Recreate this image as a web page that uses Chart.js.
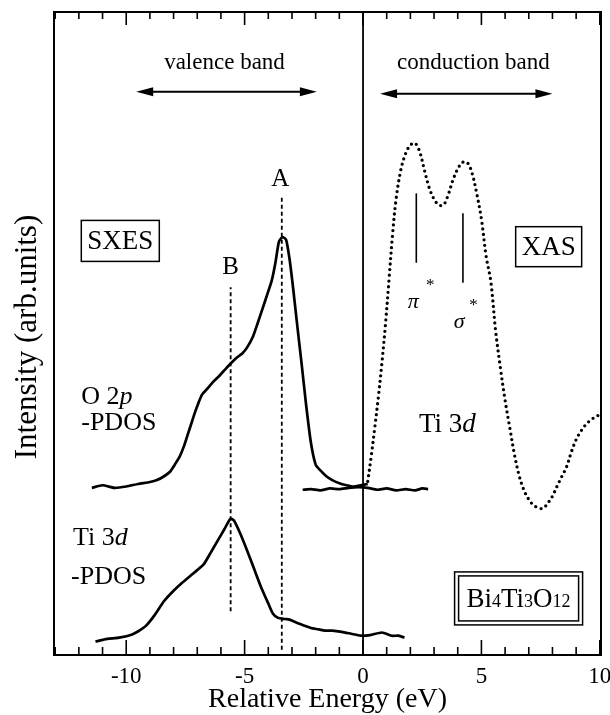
<!DOCTYPE html>
<html>
<head>
<meta charset="utf-8">
<title>Bi4Ti3O12 SXES / XAS</title>
<script src="https://cdn.jsdelivr.net/npm/chart.js"></script>
<style>
  body { margin: 0; background: #fff; }
  #wrap { width: 610px; height: 715px; }
</style>
</head>
<body>
<div id="wrap"><canvas id="chart"></canvas></div>
<script>
// Energy axis
const xMin = -13.05, xMax = 10.05;
const xTickValues = [-10, -5, 0, 5, 10];

// O 2p PDOS (SXES), [energy, intensity]
const o2pE = [-11.45, -11.0, -10.5, -10.0, -9.5, -9.0, -8.7, -8.4, -8.15, -7.95, -7.75, -7.55, -7.4, -7.25, -7.1, -6.95, -6.8, -6.6, -6.35, -6.1, -5.85, -5.6, -5.35, -5.1, -4.9, -4.65, -4.45, -4.25, -4.05, -3.85, -3.7, -3.55, -3.4, -3.25, -3.1, -2.95, -2.8, -2.6, -2.4, -2.2, -2.0, -1.8, -1.55, -1.3, -1.0, -0.7, -0.4, -0.1, 0.2];
const o2pI = [26.0, 26.4, 26.0, 26.2, 26.6, 26.9, 27.2, 27.8, 28.5, 29.6, 30.8, 32.6, 34.3, 36.0, 37.7, 39.2, 40.5, 41.3, 42.4, 43.3, 44.3, 45.3, 46.2, 46.9, 47.8, 49.5, 51.6, 53.8, 56.0, 58.3, 61.0, 64.3, 65.0, 64.6, 61.5, 57.0, 52.0, 45.5, 38.8, 33.0, 29.6, 28.7, 27.8, 27.2, 26.7, 26.4, 26.2, 26.4, 26.6];

// flat trace around the Fermi level
const flatE = [-2.55, -2.2, -1.8, -1.4, -1.0, -0.6, -0.2, 0.2, 0.6, 1.0, 1.4, 1.8, 2.2, 2.5, 2.75];
const flatI = [25.7, 25.8, 25.6, 25.9, 25.8, 26.0, 26.1, 26.0, 25.7, 25.9, 25.6, 25.8, 25.6, 25.9, 25.8];

// Ti 3d PDOS (SXES)
const ti3dE = [-11.3, -10.8, -10.3, -9.75, -9.4, -9.15, -8.8, -8.4, -8.0, -7.65, -7.2, -6.75, -6.45, -6.15, -5.85, -5.6, -5.45, -5.2, -4.9, -4.6, -4.3, -4.0, -3.8, -3.6, -3.3, -3.1, -2.8, -2.5, -2.2, -1.9, -1.6, -1.3, -0.9, -0.5, -0.1, 0.3, 0.8, 1.2, 1.5, 1.75];
const ti3dI = [2.1, 2.5, 2.7, 3.2, 3.9, 4.6, 6.2, 8.4, 10.0, 11.2, 12.6, 14.0, 15.8, 17.7, 19.6, 21.2, 20.9, 19.0, 16.3, 13.4, 10.5, 8.0, 6.4, 5.8, 5.6, 5.5, 5.0, 4.6, 4.2, 4.0, 3.8, 3.8, 3.6, 3.3, 3.0, 3.1, 3.5, 3.0, 3.0, 2.7];

// Ti 3d XAS
const xasE = [0.2, 0.35, 0.5, 0.65, 0.8, 0.95, 1.1, 1.25, 1.4, 1.6, 1.8, 2.0, 2.2, 2.4, 2.6, 2.8, 3.0, 3.2, 3.4, 3.6, 3.8, 4.0, 4.2, 4.4, 4.6, 4.8, 5.0, 5.2, 5.4, 5.6, 5.8, 6.0, 6.2, 6.4, 6.6, 6.8, 7.0, 7.2, 7.4, 7.6, 7.8, 8.0, 8.2, 8.4, 8.6, 8.8, 9.0, 9.2, 9.4, 9.6, 9.8, 10.0];
const xasI = [27.0, 31.0, 35.5, 40.2, 45.5, 51.5, 58.5, 65.5, 71.0, 75.5, 78.0, 79.3, 79.6, 78.2, 75.3, 72.6, 70.9, 70.0, 70.0, 71.6, 73.9, 75.6, 76.6, 76.6, 75.0, 71.8, 67.8, 62.0, 58.0, 50.4, 44.7, 39.6, 35.3, 31.1, 27.8, 25.6, 24.2, 23.3, 22.9, 22.8, 23.6, 24.7, 26.3, 27.8, 29.3, 31.6, 33.5, 34.8, 35.8, 36.5, 37.0, 37.4];

// peak markers: energy and [from, to] intensity
const peakA = -3.43, peakAspan = [0.8, 71.1];
const peakB = -5.59, peakBspan = [6.8, 57.2];
const piStar = 2.25, piStarSpan = [61.0, 71.8];
const sigmaStar = 4.22, sigmaStarSpan = [57.9, 68.7];

const FONT = '"Liberation Serif", "DejaVu Serif", serif';

function pts(xs, ys) { return xs.map((x, i) => ({ x: x, y: ys[i] })); }
function vline(x, span) { return [{ x: x, y: span[0] }, { x: x, y: span[1] }]; }

const base = { showLine: true, pointRadius: 0, fill: false, borderColor: '#000' };

const datasets = [
  Object.assign({}, base, { data: vline(0, [0, 100]), borderWidth: 1.8 }),
  Object.assign({}, base, { data: vline(peakA, peakAspan), borderWidth: 1.8, borderDash: [4, 3] }),
  Object.assign({}, base, { data: vline(peakB, peakBspan), borderWidth: 1.8, borderDash: [4, 3] }),
  Object.assign({}, base, { data: vline(piStar, piStarSpan), borderWidth: 1.6 }),
  Object.assign({}, base, { data: vline(sigmaStar, sigmaStarSpan), borderWidth: 1.6 }),
  Object.assign({}, base, { data: pts(o2pE, o2pI), borderWidth: 2.7, tension: 0.2 }),
  Object.assign({}, base, { data: pts(flatE, flatI), borderWidth: 2.7, tension: 0.2 }),
  Object.assign({}, base, { data: pts(ti3dE, ti3dI), borderWidth: 2.7, tension: 0.2 }),
  Object.assign({}, base, { data: pts(xasE, xasI), borderWidth: 3.3, tension: 0.35,
    borderDash: [0, 5.6], borderCapStyle: 'round' })
];

// text, arrows, boxes, frame and ticks
const decor = {
  id: 'decor',
  afterDraw(chart) {
    const ctx = chart.ctx, a = chart.chartArea;
    const sx = chart.scales.x, sy = chart.scales.y;
    const X = v => sx.getPixelForValue(v), Y = v => sy.getPixelForValue(v);
    ctx.save();
    ctx.fillStyle = '#000';
    ctx.strokeStyle = '#000';

    // frame
    ctx.lineWidth = 2;
    ctx.strokeRect(a.left, a.top, a.right - a.left, a.bottom - a.top);

    // inward ticks top and bottom
    ctx.lineWidth = 1.6;
    for (let t = -13; t <= 10; t++) {
      const x = X(t), len = (t % 5 === 0) ? 15 : 8;
      ctx.beginPath();
      ctx.moveTo(x, a.bottom); ctx.lineTo(x, a.bottom - len);
      ctx.moveTo(x, a.top); ctx.lineTo(x, a.top + (t % 5 === 0 ? 13 : 7));
      ctx.stroke();
    }

    function text(str, x, y, size, align, italic) {
      ctx.font = (italic ? 'italic ' : '') + size + 'px ' + FONT;
      ctx.textAlign = align || 'center';
      ctx.textBaseline = 'middle';
      ctx.fillText(str, x, y);
    }
    function runs(parts, x, y) {
      // parts: [str, size, italic]
      ctx.textAlign = 'left';
      ctx.textBaseline = 'alphabetic';
      let cx = x;
      parts.forEach(p => {
        ctx.font = (p[2] ? 'italic ' : '') + p[1] + 'px ' + FONT;
        ctx.fillText(p[0], cx, y);
        cx += ctx.measureText(p[0]).width;
      });
    }
    function measure(parts) {
      let w = 0;
      parts.forEach(p => { ctx.font = (p[2] ? 'italic ' : '') + p[1] + 'px ' + FONT; w += ctx.measureText(p[0]).width; });
      return w;
    }
    function arrow(e1, e2, v) {
      const x1 = X(e1), x2 = X(e2), y = Y(v);
      ctx.lineWidth = 2;
      ctx.beginPath(); ctx.moveTo(x1 + 8, y); ctx.lineTo(x2 - 8, y); ctx.stroke();
      [[x1, 1], [x2, -1]].forEach(h => {
        ctx.beginPath();
        ctx.moveTo(h[0], y);
        ctx.lineTo(h[0] + h[1] * 17, y - 4.5);
        ctx.lineTo(h[0] + h[1] * 17, y + 4.5);
        ctx.closePath(); ctx.fill();
      });
    }
    function box(e, v, w, h, dbl) {
      const cx = X(e), cy = Y(v);
      ctx.lineWidth = 1.5;
      ctx.strokeRect(cx - w / 2, cy - h / 2, w, h);
      if (dbl) ctx.strokeRect(cx - w / 2 + 4, cy - h / 2 + 4, w - 8, h - 8);
    }

    text('valence band', X(-5.85), Y(92.1), 23);
    text('conduction band', X(4.66), Y(92.1), 23);
    arrow(-9.58, -1.95, 87.6);
    arrow(0.72, 8.0, 87.3);

    text('A', X(-3.49), Y(73.9), 25);
    text('B', X(-5.59), Y(60.2), 25);

    box(-10.25, 64.4, 78, 41);
    text('SXES', X(-10.25), Y(64.4) + 1, 27);
    box(7.84, 63.5, 66, 40);
    text('XAS', X(7.84), Y(63.5) + 1, 27);

    // O 2p -PDOS
    runs([['O 2', 26], ['p', 26, true]], X(-11.9), Y(39.7) + 4);
    text('-PDOS', X(-11.9), Y(36.0), 26, 'left');
    // Ti 3d -PDOS
    runs([['Ti 3', 26], ['d', 26, true]], X(-12.25), Y(18.5) + 9);
    text('-PDOS', X(-12.33), Y(12.1), 26, 'left');
    // Ti 3d XAS
    const t3 = [['Ti 3', 27], ['d', 27, true]];
    runs(t3, X(3.56) - measure(t3) / 2, Y(36.1) + 9);

    // pi* and sigma*
    text('\u03c0', X(2.12), Y(54.9), 22, 'center', true);
    text('*', X(2.84), Y(57.4), 17);
    text('\u03c3', X(4.06), Y(51.8), 22, 'center', true);
    text('*', X(4.67), Y(54.4), 17);

    // compound
    box(6.57, 8.8, 128, 53, true);
    const comp = [['Bi', 27], ['4', 18], ['Ti', 27], ['3', 18], ['O', 27], ['12', 18]];
    runs(comp, X(6.57) - measure(comp) / 2, Y(8.8) + 9);

    // axis titles
    ctx.font = '28px ' + FONT;
    ctx.textAlign = 'center';
    ctx.textBaseline = 'alphabetic';
    ctx.fillText('Relative Energy (eV)', (a.left + a.right) / 2, 707);
    ctx.save();
    ctx.translate(36, 337);
    ctx.rotate(-Math.PI / 2);
    ctx.font = '31px ' + FONT;
    ctx.fillText('Intensity (arb.units)', 0, 0);
    ctx.restore();

    ctx.restore();
  }
};

new Chart(document.getElementById('chart'), {
  type: 'scatter',
  data: { datasets: datasets },
  options: {
    responsive: true,
    maintainAspectRatio: false,
    animation: false,
    layout: { padding: { left: 54, right: 9, top: 12, bottom: 0 } },
    plugins: { legend: { display: false }, tooltip: { enabled: false } },
    scales: {
      x: {
        type: 'linear', min: xMin, max: xMax,
        grid: { display: false, drawTicks: false },
        border: { display: false },
        afterBuildTicks: s => { s.ticks = xTickValues.map(v => ({ value: v })); },
        afterFit: s => { s.height = 60; s.paddingLeft = 0; s.paddingRight = 0; },
        ticks: { color: '#000', padding: 8, autoSkip: false, maxRotation: 0,
          font: { family: FONT, size: 23 }, callback: v => String(v) }
      },
      y: { type: 'linear', min: 0, max: 100, display: false }
    }
  },
  plugins: [decor]
});
</script>
</body>
</html>
